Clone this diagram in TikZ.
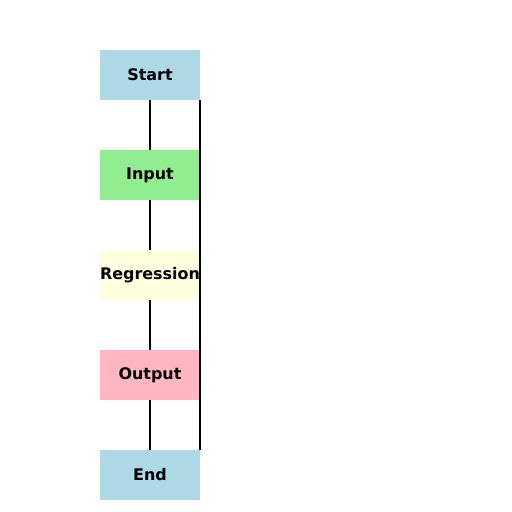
\documentclass[tikz,border=0pt]{standalone}
\usepackage{fontspec}
\setmainfont{DejaVu Sans}
\usepackage{tikz}
\usetikzlibrary{positioning}

\definecolor{lblue}{RGB}{173,216,230}
\definecolor{lgreen}{RGB}{144,238,144}
\definecolor{lyellow}{RGB}{255,255,224}
\definecolor{lpink}{RGB}{255,182,193}

\tikzset{
  stepbox/.style={rectangle, minimum width=100bp, minimum height=50bp, inner sep=0pt,
    outer sep=0pt, font=\fontsize{16}{19}\selectfont\bfseries},
  link/.style={draw=black, line width=2bp}
}

\begin{document}
\begin{tikzpicture}[x=1bp, y=1bp, node distance=50bp]
   \useasboundingbox (0,0) rectangle (512,512);

   \node[stepbox, fill=lblue] (start) at (150,437) {Start};
   \node[stepbox, fill=lgreen, below=of start] (input) {Input};
   \node[stepbox, fill=lyellow, below=of input] (regr) {Regression};
   \node[stepbox, fill=lpink, below=of regr] (output) {Output};
   \node[stepbox, fill=lblue, below=of output] (end) {End};

  \path[link]
    (start) edge (input)
    (input) edge (regr)
    (regr) edge (output)
    (output) edge (end)
    %side line
    (start.south east) edge (end.north east);
\end{tikzpicture}
\end{document}
